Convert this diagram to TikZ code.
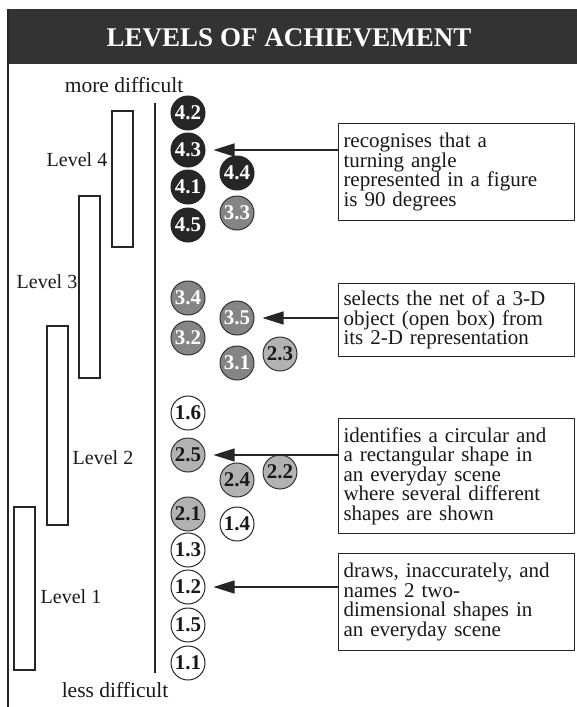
\documentclass[tikz,border=0pt]{standalone}
\usepackage{fontspec}
\setmainfont{Liberation Serif}
\usetikzlibrary{arrows.meta}

\begin{document}
\begin{tikzpicture}[x=1pt,y=-1pt,
  ink/.style={draw=black!85},
  lvbar/.style={ink, line width=1.1pt, fill=white},
  lvtext/.style={font=\fontsize{20}{20}\selectfont, text=black!90},
  endtext/.style={font=\fontsize{21.5}{21.5}\selectfont, text=black!90},
  disc/.style={circle, minimum size=34pt, inner sep=0pt, line width=1pt,
    font=\bfseries\fontsize{21}{21}\selectfont},
  dk/.style={disc, fill=black!85, draw=black!85, text=white},
  md/.style={disc, fill=black!48, draw=black!80, text=white},
  lt/.style={disc, fill=black!30, draw=black!80, text=black!90},
  wt/.style={disc, fill=white, draw=black!85, text=black!90},
  desc/.style={ink, line width=1pt, fill=white, anchor=north west,
    minimum width=236pt, text width=226pt, inner xsep=5pt, align=left,
    font=\fontsize{21}{19.5}\selectfont, text=black!90},
  pointer/.style={ink, line width=1.2pt, -{Triangle[length=21pt,width=13pt]},
    shorten >=8pt}
]
\useasboundingbox (0,0) rectangle (577,707);
\fill[white] (0,0) rectangle (577,707);

% heading band and frame
\fill[black!80] (8,9) rectangle (577,64);
\node[font=\bfseries\fontsize{27}{27}\selectfont, text=white] (title) at (289,38)
  {LEVELS OF ACHIEVEMENT};
\draw[ink, line width=1.2pt] (8,9) -- (8,707);

% difficulty scale
\node[endtext] (more) at (124,85) {more difficult};
\node[endtext] (less) at (115,690) {less difficult};
\coordinate (axtop) at (155,103);
\coordinate (axbot) at (155,673);
\draw[ink, line width=1.2pt] (axtop) -- (axbot);

% level bands
\draw[lvbar] (112,111) rectangle (133,247);
\draw[lvbar] (79,196) rectangle (100,378);
\draw[lvbar] (47,326) rectangle (68,525);
\draw[lvbar] (14,507) rectangle (35,670);
\node[lvtext] (lv4) at (77,160) {Level 4};
\node[lvtext] (lv3) at (47,282) {Level 3};
\node[lvtext] (lv2) at (103,458) {Level 2};
\node[lvtext] (lv1) at (71,597) {Level 1};

% outcomes
\node[dk] (c42) at (188,113) {4.2};
\node[dk] (c43) at (188,150) {4.3};
\node[dk] (c44) at (237,173) {4.4};
\node[dk] (c41) at (188,187) {4.1};
\node[md] (c33) at (237,213) {3.3};
\node[dk] (c45) at (188,225) {4.5};
\node[md] (c34) at (188,298) {3.4};
\node[md] (c35) at (237,318) {3.5};
\node[md] (c32) at (188,338) {3.2};
\node[md] (c31) at (237,363) {3.1};
\node[lt] (c23) at (280,354) {2.3};
\node[wt] (c16) at (188,413) {1.6};
\node[lt] (c25) at (188,455) {2.5};
\node[lt] (c22) at (280,472) {2.2};
\node[lt] (c24) at (237,480) {2.4};
\node[lt] (c21) at (188,514) {2.1};
\node[wt] (c14) at (237,524) {1.4};
\node[wt] (c13) at (188,550) {1.3};
\node[wt] (c12) at (188,587) {1.2};
\node[wt] (c15) at (188,625) {1.5};
\node[wt] (c11) at (188,663) {1.1};

% example descriptions
\node[desc, minimum height=97pt] (b1) at (338,123)
  {recognises that a\\turning angle\\represented in a figure\\is 90 degrees};
\node[desc, minimum height=73pt] (b2) at (338,283)
  {selects the net of a 3-D\\object (open box) from\\its 2-D representation};
\node[desc, minimum height=115pt] (b3) at (338,418)
  {identifies a circular and\\a rectangular shape in\\an everyday scene\\where several different\\shapes are shown};
\node[desc, minimum height=97pt] (b4) at (338,553)
  {draws, inaccurately, and\\names 2 two-\\dimensional shapes in\\an everyday scene};

\draw[pointer] (b1.west |- c43) -- (c43);
\draw[pointer] (b2.west |- c35) -- (c35);
\draw[pointer] (b3.west |- c25) -- (c25);
\draw[pointer] (b4.west |- c12) -- (c12);
\end{tikzpicture}
\end{document}
